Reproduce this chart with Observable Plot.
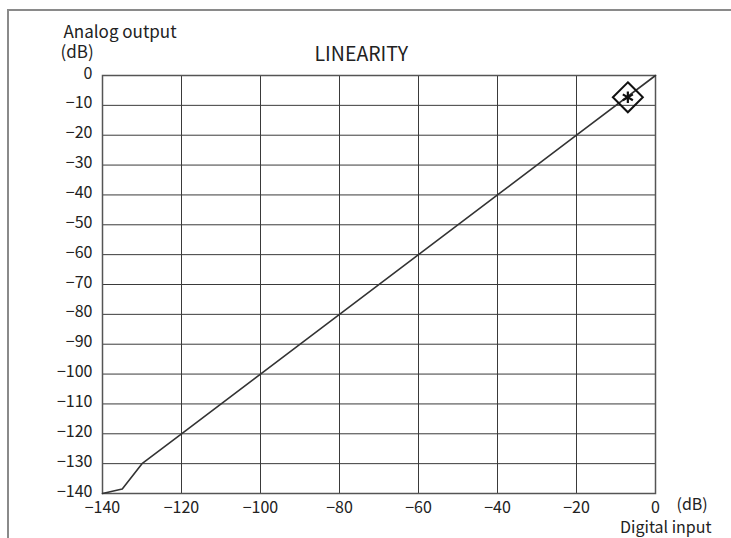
<!DOCTYPE html>
<html>
<head>
<meta charset="utf-8">
<script src="https://cdn.jsdelivr.net/npm/d3@7"></script>
<script src="https://cdn.jsdelivr.net/npm/@observablehq/plot@0.6"></script>
<style>
  html, body { margin: 0; padding: 0; background: #fff; }
  #wrap { position: relative; width: 731px; height: 538px; overflow: hidden; }
  #border { position: absolute; left: 7px; top: 9px; width: 740px; height: 540px;
            border-top: 2px solid #8a8a8a; border-left: 2px solid #8a8a8a; box-sizing: border-box; }
  #chart { position: absolute; left: 0; top: 0; }
</style>
</head>
<body>
<div id="wrap"><div id="border"></div><div id="chart"></div></div>
<script>
const digitalInput = [-140, -135, -130, -120, -100, -80, -60, -40, -20, 0];
const analogOutput = [-140, -138.5, -130, -120, -100, -80, -60, -40, -20, 0];
const markerX = [-7];
const markerY = [-7.3];
const xTicks = [-140, -120, -100, -80, -60, -40, -20, 0];
const yTicks = [0, -10, -20, -30, -40, -50, -60, -70, -80, -90, -100, -110, -120, -130, -140];

const lineData = digitalInput.map((x, i) => ({x, y: analogOutput[i]}));
const markerData = markerX.map((x, i) => ({x, y: markerY[i]}));
const font = "'Noto Sans CJK JP', 'Noto Sans', sans-serif";
const fmt = d => d < 0 ? "\u2212" + Math.abs(d) : String(d);

const chart = Plot.plot({
  width: 731,
  height: 538,
  marginLeft: 102,
  marginRight: 76,
  marginTop: 75,
  marginBottom: 45,
  style: { fontFamily: font, fontSize: "16px", color: "#222", background: "transparent", overflow: "visible" },
  x: { domain: [-140, 0], label: null },
  y: { domain: [-140, 0], label: null },
  marks: [
    Plot.gridX(xTicks, { stroke: "#3a3a3a", strokeOpacity: 1, strokeWidth: 1 }),
    Plot.gridY(yTicks, { stroke: "#3a3a3a", strokeOpacity: 1, strokeWidth: 1 }),
    Plot.frame({ stroke: "#555", strokeWidth: 1.5 }),
    Plot.axisX({ ticks: xTicks, tickFormat: fmt, tickSize: 0, tickPadding: 8, label: null, fontSize: 16 }),
    Plot.axisY({ ticks: yTicks, tickFormat: fmt, tickSize: 0, tickPadding: 10, label: null, fontSize: 16, dy: -2 }),
    Plot.line(lineData, { x: "x", y: "y", stroke: "#333", strokeWidth: 1.6 }),
    Plot.dot(markerData, { x: "x", y: "y", symbol: "diamond2", r: 13.5, stroke: "#111", strokeWidth: 2, fill: "none" }),
    Plot.dot(markerData, { x: "x", y: "y", symbol: "asterisk", r: 5.5, stroke: "#111", strokeWidth: 2.2 }),
    Plot.text(["Analog output"], { frameAnchor: "top-left", dx: -39, dy: -50, text: d => d, textAnchor: "start", fontSize: 17, fill: "#222" }),
    Plot.text(["(dB)"], { frameAnchor: "top-left", dx: -42, dy: -30, text: d => d, textAnchor: "start", fontSize: 17, fill: "#222" }),
    Plot.text(["LINEARITY"], { frameAnchor: "top-left", dx: 212, dy: -28, text: d => d, textAnchor: "start", fontSize: 19.5, fill: "#222" }),
    Plot.text(["(dB)"], { frameAnchor: "bottom-right", dx: 21, dy: 16, text: d => d, textAnchor: "start", fontSize: 16, fill: "#222" }),
    Plot.text(["Digital input"], { frameAnchor: "bottom-right", dx: 56, dy: 39, text: d => d, textAnchor: "end", fontSize: 16, fill: "#222" })
  ]
});
document.getElementById("chart").appendChild(chart);
</script>
</body>
</html>
